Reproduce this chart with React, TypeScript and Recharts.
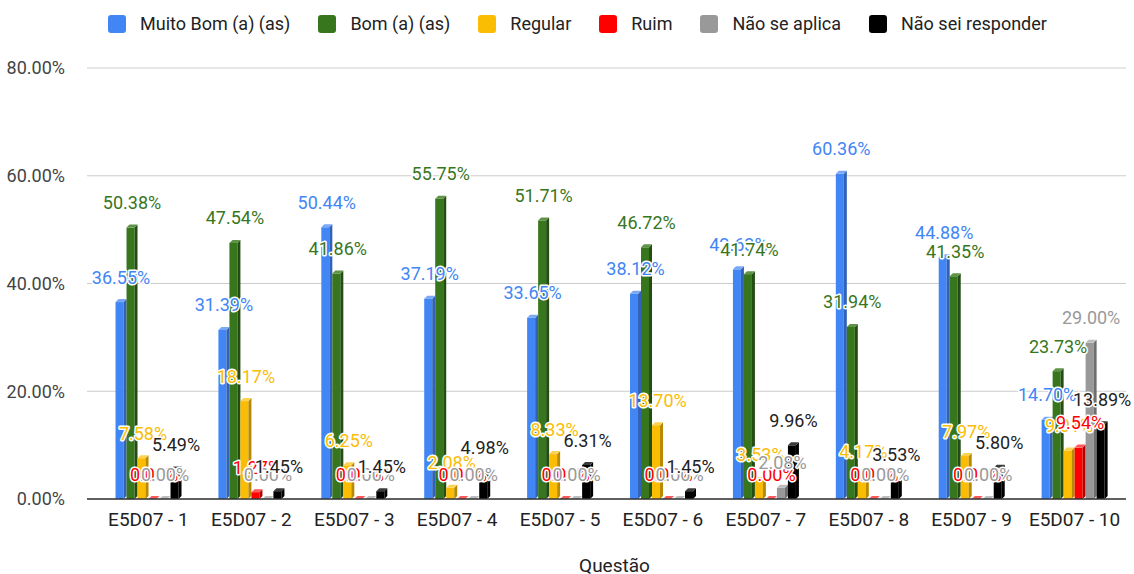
import { Bar, BarChart, CartesianGrid, LabelList, ReferenceLine, XAxis, YAxis } from "recharts";

const questions = [
  "E5D07 - 1",
  "E5D07 - 2",
  "E5D07 - 3",
  "E5D07 - 4",
  "E5D07 - 5",
  "E5D07 - 6",
  "E5D07 - 7",
  "E5D07 - 8",
  "E5D07 - 9",
  "E5D07 - 10"
];

const muitoBom = [36.55, 31.39, 50.44, 37.19, 33.65, 38.12, 42.63, 60.36, 44.88, 14.7];
const bom = [50.38, 47.54, 41.86, 55.75, 51.71, 46.72, 41.74, 31.94, 41.35, 23.73];
const regular = [7.58, 18.17, 6.25, 2.08, 8.33, 13.7, 3.53, 4.17, 7.97, 9.01];
const ruim = [0, 1.27, 0, 0, 0, 0, 0, 0, 0, 9.54];
const naoSeAplica = [0, 0, 0, 0, 0, 0, 2.08, 0, 0, 29.0];
const naoSei = [5.49, 1.45, 1.45, 4.98, 6.31, 1.45, 9.96, 3.53, 5.8, 13.89];

const yTicks = [0, 20, 40, 60, 80];

type SeriesSpec = {
  key: string;
  label: string;
  values: number[];
  color: string;
  side: string;
  top: string;
  text: string;
};

const series: SeriesSpec[] = [
  { key: "muitoBom", label: "Muito Bom (a) (as)", values: muitoBom, color: "#4285f4", side: "#2f62b8", top: "#7aa8f7", text: "#4285f4" },
  { key: "bom", label: "Bom (a) (as)", values: bom, color: "#38761d", side: "#234d12", top: "#5f9446", text: "#38761d" },
  { key: "regular", label: "Regular", values: regular, color: "#fbbc04", side: "#b98a00", top: "#fcd253", text: "#fbbc04" },
  { key: "ruim", label: "Ruim", values: ruim, color: "#ff0000", side: "#b80000", top: "#ff5a5a", text: "#ff0000" },
  { key: "naoSeAplica", label: "Não se aplica", values: naoSeAplica, color: "#999999", side: "#6e6e6e", top: "#bdbdbd", text: "#999999" },
  { key: "naoSei", label: "Não sei responder", values: naoSei, color: "#000000", side: "#000000", top: "#3a3a3a", text: "#222222" }
];

const data = questions.map((q, i) => {
  const row: Record<string, string | number> = { name: q };
  series.forEach((s) => {
    row[s.key] = s.values[i];
  });
  return row;
});

const font = "Roboto, Arial, sans-serif";
const depth = 3;

function make3dBar(spec: SeriesSpec) {
  return (props: any) => {
    const { x, y, width, height } = props;
    if (x == null || y == null) return <g />;
    const w = Math.max(width - depth, 1);
    const h = Math.max(height, 0);
    const bottom = y + h;
    return (
      <g>
        <rect x={x} y={y} width={w} height={h} fill={spec.color} />
        <polygon
          points={`${x + w},${y} ${x + w + depth},${y - depth} ${x + w + depth},${bottom - depth} ${x + w},${bottom}`}
          fill={spec.side}
        />
        <polygon
          points={`${x},${y} ${x + depth},${y - depth} ${x + w + depth},${y - depth} ${x + w},${y}`}
          fill={spec.top}
        />
      </g>
    );
  };
}

function makeLabel(spec: SeriesSpec) {
  return (props: any) => {
    const { x, y, width, value } = props;
    if (value == null) return null;
    return (
      <text
        x={x + width / 2}
        y={y - 25}
        textAnchor="middle"
        dominantBaseline="central"
        fontFamily={font}
        fontSize={18}
        fill={spec.text}
        stroke="#ffffff"
        strokeWidth={3}
        strokeLinejoin="round"
        paintOrder="stroke"
      >
        {`${Number(value).toFixed(2)}%`}
      </text>
    );
  };
}

function ChartLegend() {
  return (
    <div
      style={{
        position: "absolute",
        top: 13,
        left: 108,
        display: "flex",
        fontFamily: font,
        fontSize: 18,
        lineHeight: "22px",
        color: "#222222"
      }}
    >
      {series.map((s) => (
        <div key={s.key} style={{ display: "flex", alignItems: "center", marginRight: 28 }}>
          <span
            style={{
              display: "inline-block",
              width: 18,
              height: 18,
              borderRadius: 3,
              background: s.color,
              marginRight: 14
            }}
          />
          <span>{s.label}</span>
        </div>
      ))}
    </div>
  );
}

export default function App() {
  return (
    <div style={{ position: "relative", width: 1134, height: 574, background: "#ffffff", overflow: "hidden" }}>
      <style>{`body { margin: 0; }`}</style>
      <ChartLegend />
      <BarChart
        width={1134}
        height={574}
        data={data}
        margin={{ top: 68, right: 8, bottom: 0, left: 0 }}
        barCategoryGap="18%"
        barGap={0}
      >
        <CartesianGrid stroke="#cccccc" vertical={false} />
        <XAxis
          dataKey="name"
          height={75}
          padding={{ left: 10, right: 0 }}
          tickLine={false}
          axisLine={false}
          tick={{ fill: "#222222", fontSize: 19, fontFamily: font }}
          tickMargin={8}
          label={{
            value: "Questão",
            position: "insideBottom",
            offset: 2,
            dx: 8,
            fill: "#222222",
            fontSize: 19,
            fontFamily: font
          }}
        />
        <YAxis
          width={87}
          domain={[0, 80]}
          ticks={yTicks}
          tickLine={false}
          axisLine={false}
          tickMargin={16}
          tickFormatter={(v: number) => `${v.toFixed(2)}%`}
          tick={{ fill: "#444444", fontSize: 18, fontFamily: font }}
        />
        {series.map((s) => (
          <Bar key={s.key} dataKey={s.key} name={s.label} isAnimationActive={false} shape={make3dBar(s)}>
            <LabelList dataKey={s.key} content={makeLabel(s)} />
          </Bar>
        ))}
        <ReferenceLine y={0} stroke="#333333" strokeWidth={1.5} />
      </BarChart>
    </div>
  );
}
